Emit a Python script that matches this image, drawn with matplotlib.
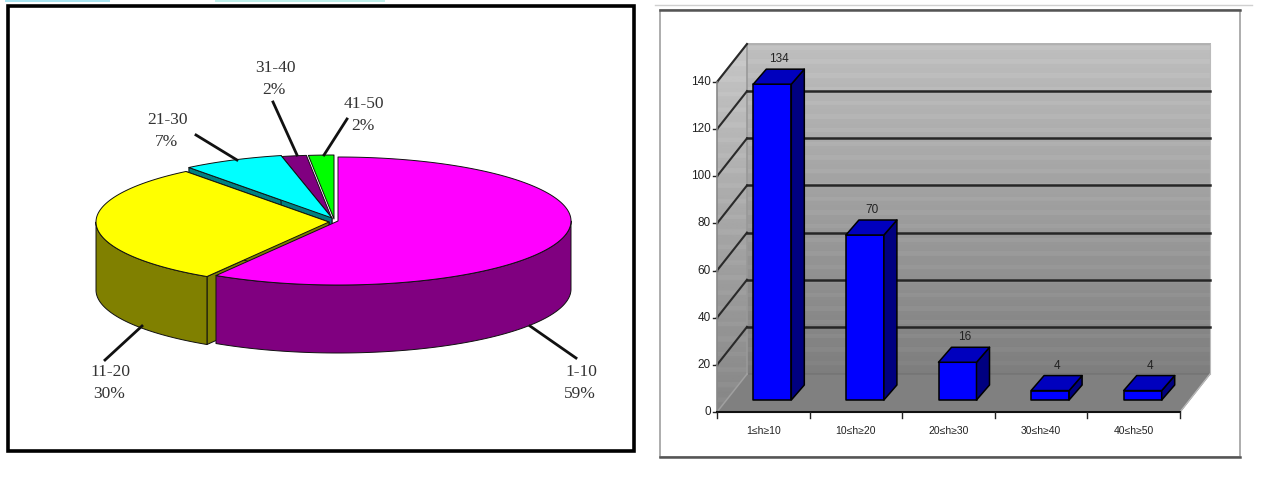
import numpy as np
import matplotlib
matplotlib.use("Agg")
import matplotlib.pyplot as plt
from matplotlib.patches import Polygon, Rectangle
from matplotlib import font_manager as fm

# ---- data ----
pie_labels = ["1-10", "11-20", "21-30", "31-40", "41-50"]
pie_percent = [59, 30, 7, 2, 2]
pie_top_colors = ["#FF00FF", "#FFFF00", "#00FFFF", "#800080", "#00FF00"]
pie_side_colors = ["#800080", "#808000", "#008080", "#400040", "#008000"]

bar_categories = ["1≤h≥10", "10≤h≥20", "20≤h≥30", "30≤h≥40", "40≤h≥50"]
bar_values = [134, 70, 16, 4, 4]
y_ticks = [0, 20, 40, 60, 80, 100, 120, 140]

# ---- layout ----
names = {f.name for f in fm.fontManager.ttflist}
narrow = "Liberation Sans Narrow" if "Liberation Sans Narrow" in names else "Liberation Sans"
serif = "Liberation Serif"

fig = plt.figure(figsize=(12.74, 4.8), dpi=100, facecolor="white")
ax = fig.add_axes([0, 0, 1, 1])
ax.axis("off")

# top-edge remnants and frames
ax.add_patch(Rectangle((5, 0), 105, 2, fc="#A8E4F0", ec="none"))
ax.add_patch(Rectangle((215, 0), 170, 2, fc="#BDEFEA", ec="none"))
ax.add_patch(Rectangle((8, 6), 626, 445, fc="white", ec="black", lw=2.6))
ax.plot([655, 1252], [5, 5], color="#D0D0D0", lw=1)
ax.add_patch(Rectangle((660, 10), 580, 447, fc="white", ec="#A0A0A0", lw=1.2))
ax.plot([660, 1240], [10, 10], color="#555555", lw=1.8)
ax.plot([660, 1240], [457, 457], color="#555555", lw=1.8)

# ---- 3D pie (sweep angles follow the counts behind the percentages) ----
CX, CY, RX, RY, DEPTH = 332, 220, 233, 64, 68
offsets = [(6, 1), (-3, 2), (0, -2), (0, -1), (2, -1)]
fr = np.cumsum([0] + bar_values) / sum(bar_values) * 360.0


def rim(t, cx, cy):
    r = np.radians(t)
    return np.column_stack([cx + RX * np.sin(r), cy - RY * np.cos(r)])


OUT = dict(ec="#101010", lw=0.7, joinstyle="round")
order = [4, 3, 2, 1, 0]
z = 5
for i in order:
    a0, a1 = fr[i], fr[i + 1]
    cx, cy = CX + offsets[i][0], CY + offsets[i][1]
    apex = np.array([[cx, cy]])
    for ang in (a0, a1):
        p = rim(np.array([ang]), cx, cy)
        face = np.vstack([apex, p, p + [0, DEPTH], apex + [0, DEPTH]])
        if i in (1, 2):
            ax.add_patch(Polygon(face, fc=pie_side_colors[i], zorder=z, **OUT))
    s0, s1 = max(a0, 90), min(a1, 270)
    if s1 > s0:
        t = np.linspace(s0, s1, 200)
        top = rim(t, cx, cy)
        ax.add_patch(Polygon(np.vstack([top, (top + [0, DEPTH])[::-1]]),
                             fc=pie_side_colors[i], zorder=z, **OUT))
    t = np.linspace(a0, a1, 200)
    ax.add_patch(Polygon(np.vstack([apex, rim(t, cx, cy)]),
                         fc=pie_top_colors[i], zorder=z + 0.5, **OUT))
    z += 1

leaders = [((530, 326), (576, 358)), ((142, 326), (105, 360)), ((237, 160), (196, 135)),
           ((297, 155), (273, 102)), ((324, 155), (347, 119))]
label_pos = [(581, 372), (110, 372), (168, 120), (275, 68), (364, 104)]
for (a, b) in leaders:
    ax.plot([a[0], b[0]], [a[1], b[1]], color="#111111", lw=2, zorder=20)
for name, pct, (x, y) in zip(pie_labels, pie_percent, label_pos):
    ax.text(x, y, name, family=serif, fontsize=12.5, color="#333333", ha="center", va="center", zorder=21)
    ax.text(x - 1, y + 22, f"{pct}%", family=serif, fontsize=12.5, color="#333333", ha="center", va="center", zorder=21)

# ---- 3D column chart ----
X0, X1, Y0, PX_UNIT = 717, 1180, 412, 2.357
WALL_DX, WALL_DY = 30, -38
BAR_BASE, BAR_W, SIDE_DX, SIDE_DY = 400, 38, 13, -15


def vy(v):
    return Y0 - v * PX_UNIT


top_v = y_ticks[-1]
back_wall = [(X0 + WALL_DX, vy(top_v) + WALL_DY), (X1 + WALL_DX, vy(top_v) + WALL_DY),
             (X1 + WALL_DX, Y0 + WALL_DY), (X0 + WALL_DX, Y0 + WALL_DY)]
side_wall = [(X0, vy(top_v)), (X0 + WALL_DX, vy(top_v) + WALL_DY),
             (X0 + WALL_DX, Y0 + WALL_DY), (X0, Y0)]
floor = [(X0, Y0), (X0 + WALL_DX, Y0 + WALL_DY), (X1 + WALL_DX, Y0 + WALL_DY), (X1, Y0)]

rows = np.linspace(0, 1, 330)
base = 190 - 65 * rows
stripe = 5 * (np.sin(rows * 2 * np.pi * 24) > 0.55)
grad = ((base + stripe) / 255.0)[:, None]
for poly, shift in ((side_wall, 8), (back_wall, 0)):
    patch = Polygon(poly, fc="none", ec="none", zorder=1)
    ax.add_patch(patch)
    im = ax.imshow(np.clip(grad + shift / 255.0, 0, 1), cmap="gray", vmin=0, vmax=1, aspect="auto",
                   extent=(X0, X1 + WALL_DX, Y0 + WALL_DY, vy(top_v) + WALL_DY), zorder=1)
    if shift:
        im.set_extent((X0, X1 + WALL_DX, Y0, vy(top_v) + WALL_DY))
    im.set_clip_path(patch)
ax.add_patch(Polygon(floor, fc="#808080", ec="#707070", lw=0.8, zorder=2))
ax.plot([X0, X0 + WALL_DX], [Y0, Y0 + WALL_DY], color="#A0A0A0", lw=1.2, zorder=3)
ax.plot([p[0] for p in side_wall[:2]] + [back_wall[1][0]], [p[1] for p in side_wall[:2]] + [back_wall[1][1]],
        color="#B0B0B0", lw=1.4, zorder=2)
ax.plot([X0 + WALL_DX] * 2, [vy(top_v) + WALL_DY, Y0 + WALL_DY], color="#999999", lw=1.2, zorder=2)
ax.plot([X1 + WALL_DX] * 2, [vy(top_v) + WALL_DY, Y0 + WALL_DY], color="#BBBBBB", lw=0.8, zorder=2)

for v in y_ticks[1:]:
    y = vy(v)
    ax.plot([X0, X0 + WALL_DX], [y, y + WALL_DY], color="#2A2A2A", lw=1.5, zorder=3)
    if v < top_v:
        ax.plot([X0 + WALL_DX, X1 + WALL_DX], [y + WALL_DY] * 2, color="#262626", lw=1.8, zorder=3)
for v in y_ticks:
    y = vy(v)
    ax.plot([X0 - 4, X0], [y, y], color="#222222", lw=1, zorder=3)
    ax.text(X0 - 6, y, str(v), family=narrow, fontsize=8.5, color="#222222", ha="right", va="center", zorder=9)

ax.plot([X0, X0], [vy(top_v), Y0], color="#888888", lw=1.2, zorder=3)
ax.plot([X0, X1], [Y0, Y0], color="#111111", lw=1.5, zorder=8)
ax.plot([X1, X1 + WALL_DX], [Y0, Y0 + WALL_DY], color="#B8B8B8", lw=1, zorder=3)

step = (X1 - X0) / len(bar_categories)
for k in range(len(bar_categories) + 1):
    ax.plot([X0 + k * step] * 2, [Y0, Y0 + 6], color="#222222", lw=1, zorder=8)

BAR_EDGE = dict(ec="black", lw=1.1, joinstyle="round", zorder=6)
for k, (cat, val) in enumerate(zip(bar_categories, bar_values)):
    mid = X0 + (k + 0.5) * step
    left = mid - 10
    right = left + BAR_W
    top = BAR_BASE - val * PX_UNIT
    ax.add_patch(Polygon([(left, top), (right, top), (right, BAR_BASE), (left, BAR_BASE)], fc="#0000FF", **BAR_EDGE))
    ax.add_patch(Polygon([(right, top), (right + SIDE_DX, top + SIDE_DY), (right + SIDE_DX, BAR_BASE + SIDE_DY),
                          (right, BAR_BASE)], fc="#000080", **BAR_EDGE))
    ax.add_patch(Polygon([(left, top), (left + SIDE_DX, top + SIDE_DY), (right + SIDE_DX, top + SIDE_DY),
                          (right, top)], fc="#0000BE", **BAR_EDGE))
    ax.text(left + BAR_W / 2 + 7, top - 25, str(val), family=narrow, fontsize=8.5, color="#222222",
            ha="center", va="center", zorder=9)
    ax.text(mid, 431, cat, family=narrow, fontsize=7.5, color="#222222", ha="center", va="center", zorder=9)

ax.set_xlim(0, 1274)
ax.set_ylim(480, 0)
fig.savefig("out.png", dpi=100)
